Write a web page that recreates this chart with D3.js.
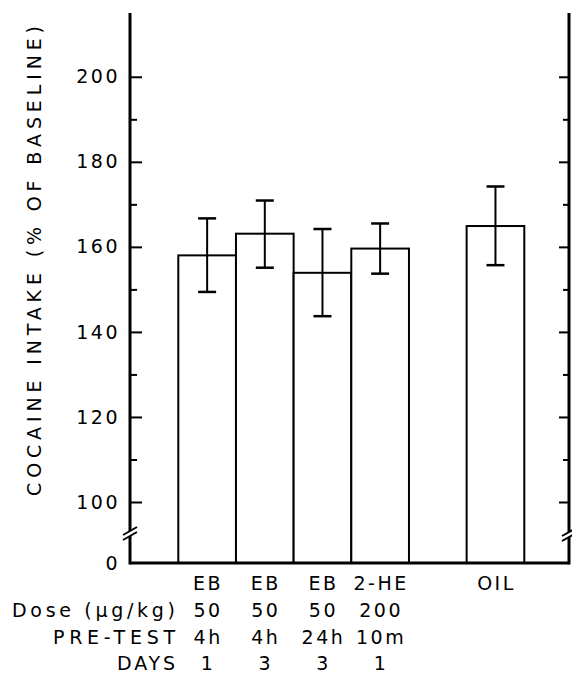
<!DOCTYPE html>
<html lang="en">
<head>
  <meta charset="UTF-8">
  <title>Cocaine intake</title>
  <style>
    body { margin: 0; background: #fff; }
    text { font-family: "DejaVu Sans", sans-serif; fill: #000; }
  </style>
</head>
<body>
  <div class="canvas"></div>

  <script src="https://cdnjs.cloudflare.com/ajax/libs/d3/7.8.5/d3.min.js"></script>
  <script>
// values
const groups = ['EB-50-4h-1', 'EB-50-4h-3', 'EB-50-24h-3', '2HE-200-10m-1', 'OIL'];
const drugs = ['EB', 'EB', 'EB', '2-HE', 'OIL'];
const doses = ['50', '50', '50', '200', ''];
const pretest = ['4h', '4h', '24h', '10m', ''];
const days = ['1', '3', '3', '1', ''];
const means = [158.0, 163.1, 153.9, 159.6, 164.9];
const errHigh = [166.7, 170.9, 164.2, 165.5, 174.2];
const errLow = [149.4, 155.1, 143.7, 153.7, 155.7];
const majorTicks = [0, 100, 120, 140, 160, 180, 200];
const minorTicks = [110, 130, 150, 170, 190];
const rowLabels = ['Dose (\u00b5g/kg)', 'PRE-TEST', 'DAYS'];

const svg = d3.select('.canvas').append('svg')
  .attr('width', 572)
  .attr('height', 673);

const plotLeft = 130, plotRight = 569, plotBottom = 563, plotTop = 13;

// broken axis: 0 at the bottom, then 100..215
const y = d3.scaleLinear()
  .domain([0, 100, 215])
  .range([plotBottom, 502, plotTop]);

// one empty slot between 2-HE and OIL
const x = d3.scaleBand()
  .domain([groups[0], groups[1], groups[2], groups[3], 'gap', groups[4]])
  .range([178.3, 524.3])
  .padding(0);

const data = groups.map((g, i) => ({ g, mean: means[i], hi: errHigh[i], lo: errLow[i] }));

// bars
svg.append('g').selectAll('rect')
  .data(data)
  .enter().append('rect')
  .attr('x', d => x(d.g))
  .attr('y', d => y(d.mean))
  .attr('width', x.bandwidth())
  .attr('height', d => plotBottom - y(d.mean))
  .attr('fill', 'white')
  .attr('stroke', 'black')
  .attr('stroke-width', 2);

// error bars
const err = svg.append('g').attr('stroke', 'black').attr('stroke-width', 2);
const cx = d => x(d.g) + x.bandwidth() / 2;
err.selectAll('.stem').data(data).enter().append('line')
  .attr('x1', cx).attr('x2', cx)
  .attr('y1', d => y(d.hi)).attr('y2', d => y(d.lo));
err.selectAll('.cap-hi').data(data).enter().append('line')
  .attr('x1', d => cx(d) - 9).attr('x2', d => cx(d) + 9)
  .attr('y1', d => y(d.hi)).attr('y2', d => y(d.hi))
  .attr('stroke-width', 2.5);
err.selectAll('.cap-lo').data(data).enter().append('line')
  .attr('x1', d => cx(d) - 9).attr('x2', d => cx(d) + 9)
  .attr('y1', d => y(d.lo)).attr('y2', d => y(d.lo))
  .attr('stroke-width', 2.5);

// left axis ticks and labels
const leftAxis = svg.append('g')
  .attr('transform', `translate(${plotLeft},0)`)
  .call(d3.axisLeft(y).tickValues(majorTicks).tickSize(-12).tickPadding(10))
  .call(g => g.select('.domain').remove());
leftAxis.selectAll('.tick line').attr('stroke-width', 2).filter(d => d === 0).remove();
leftAxis.selectAll('text')
  .attr('font-size', 19)
  .attr('font-family', '"DejaVu Sans", sans-serif')
  .style('letter-spacing', '2.5px');

svg.append('g')
  .attr('transform', `translate(${plotLeft},0)`)
  .call(d3.axisLeft(y).tickValues(minorTicks).tickSize(-7).tickFormat(''))
  .call(g => g.select('.domain').remove())
  .selectAll('line').attr('stroke-width', 2);

// right axis ticks
svg.append('g')
  .attr('transform', `translate(${plotRight},0)`)
  .call(d3.axisRight(y).tickValues(majorTicks.filter(d => d > 0)).tickSize(-10).tickFormat(''))
  .call(g => g.select('.domain').remove())
  .selectAll('line').attr('stroke-width', 2);
svg.append('g')
  .attr('transform', `translate(${plotRight},0)`)
  .call(d3.axisRight(y).tickValues(minorTicks).tickSize(-6).tickFormat(''))
  .call(g => g.select('.domain').remove())
  .selectAll('line').attr('stroke-width', 2);

// frame lines
const frame = svg.append('g').attr('stroke', 'black').attr('stroke-width', 3).attr('fill', 'none');
frame.append('line').attr('x1', plotLeft).attr('x2', plotLeft).attr('y1', plotTop).attr('y2', plotBottom + 1.5);
frame.append('line').attr('x1', plotRight).attr('x2', plotRight).attr('y1', plotTop).attr('y2', plotBottom + 1.5);
frame.append('line').attr('x1', plotLeft).attr('x2', plotRight).attr('y1', plotBottom).attr('y2', plotBottom);

// axis breaks
function axisBreak(ax, yb) {
  const g = svg.append('g');
  g.append('polygon')
    .attr('points', `${ax - 3},${yb + 4} ${ax + 3},${yb} ${ax + 3},${yb - 5} ${ax - 3},${yb - 1}`)
    .attr('fill', 'white');
  g.append('line').attr('x1', ax - 7).attr('y1', yb + 6).attr('x2', ax + 7).attr('y2', yb - 2)
    .attr('stroke', 'black').attr('stroke-width', 2);
  g.append('line').attr('x1', ax - 7).attr('y1', yb + 1).attr('x2', ax + 7).attr('y2', yb - 7)
    .attr('stroke', 'black').attr('stroke-width', 2);
}
axisBreak(plotLeft, 534);
axisBreak(plotRight, 535);

// y title
svg.append('text')
  .attr('transform', 'translate(41,261) rotate(-90)')
  .attr('text-anchor', 'middle')
  .attr('font-size', 19)
  .attr('textLength', 470)
  .attr('lengthAdjust', 'spacing')
  .text('COCAINE INTAKE (% OF BASELINE)');

// table under the bars
const rows = [drugs, doses, pretest, days];
const rowY = [590, 617, 644, 670];
rows.forEach((vals, r) => {
  svg.append('g').selectAll('text')
    .data(vals)
    .enter().append('text')
    .attr('x', (d, i) => x(groups[i]) + x.bandwidth() / 2 + 1)
    .attr('y', rowY[r])
    .attr('text-anchor', 'middle')
    .attr('font-size', 19)
    .style('letter-spacing', '2.5px')
    .text(d => d);
});

const labelWidth = [163, 122, 58];
rowLabels.forEach((t, i) => {
  svg.append('text')
    .attr('x', 175)
    .attr('y', rowY[i + 1])
    .attr('text-anchor', 'end')
    .attr('font-size', 19)
    .attr('textLength', labelWidth[i])
    .attr('lengthAdjust', 'spacing')
    .text(t);
});
  </script>
</body>
</html>
